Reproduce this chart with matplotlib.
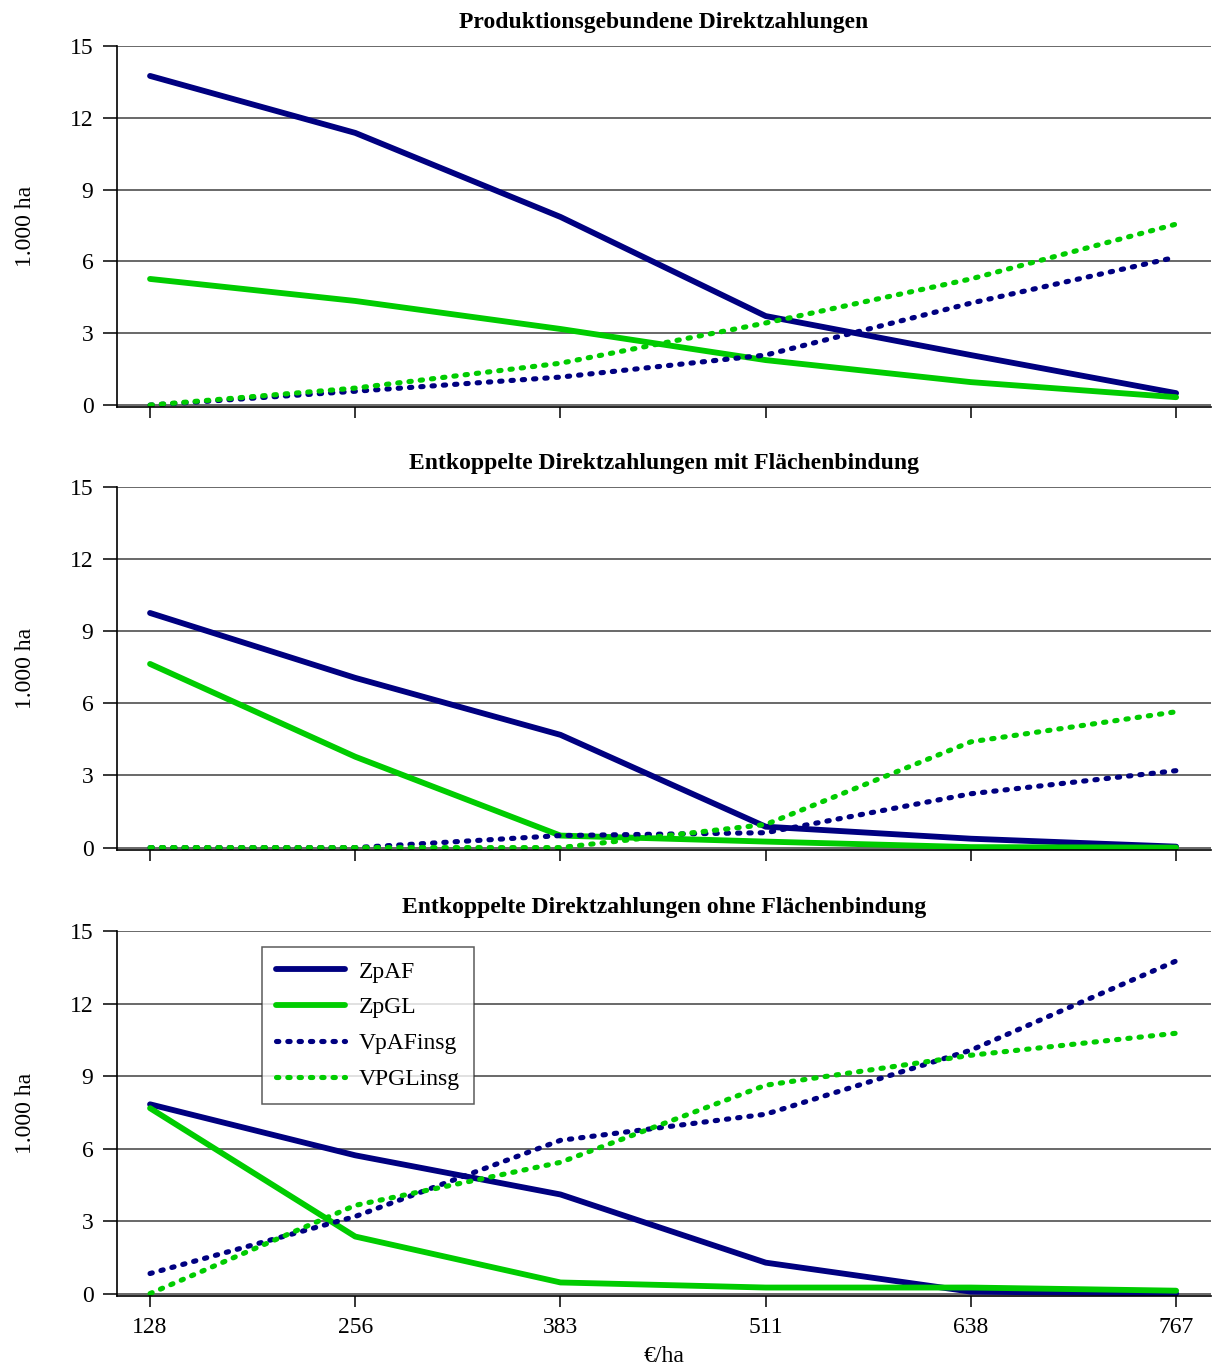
import matplotlib
matplotlib.use("Agg")
import matplotlib.pyplot as plt

plt.rcParams['font.family'] = ['Liberation Serif', 'DejaVu Serif']

categories = ['128', '256', '383', '511', '638', '767']
x_label = '€/ha'
y_label = '1.000 ha'
series_names = ['ZpAF', 'ZpGL', 'VpAFinsg', 'VPGLinsg']

titles = ['Produktionsgebundene Direktzahlungen',
          'Entkoppelte Direktzahlungen mit Flächenbindung',
          'Entkoppelte Direktzahlungen ohne Flächenbindung']

# Panel 1
p1_ZpAF = [13.75, 11.37, 7.86, 3.72, 2.09, 0.50]
p1_ZpGL = [5.27, 4.35, 3.18, 1.88, 0.96, 0.33]
p1_VpAFinsg = [0.0, 0.58, 1.17, 2.09, 4.26, 6.18]
p1_VPGLinsg = [0.0, 0.71, 1.75, 3.43, 5.27, 7.56]

# Panel 2
p2_ZpAF = [9.76, 7.06, 4.69, 0.87, 0.37, 0.04]
p2_ZpGL = [7.64, 3.78, 0.50, 0.25, 0.02, 0.0]
p2_VpAFinsg = [0.0, 0.0, 0.50, 0.62, 2.24, 3.20]
p2_VPGLinsg = [0.0, 0.0, 0.0, 0.96, 4.40, 5.65]

# Panel 3
p3_ZpAF = [7.83, 5.72, 4.10, 1.28, 0.08, 0.0]
p3_ZpGL = [7.67, 2.36, 0.46, 0.25, 0.25, 0.12]
p3_VpAFinsg = [0.83, 3.19, 6.34, 7.42, 10.07, 13.76]
p3_VPGLinsg = [0.0, 3.65, 5.43, 8.62, 9.86, 10.77]

panels = [
    [p1_ZpAF, p1_ZpGL, p1_VpAFinsg, p1_VPGLinsg],
    [p2_ZpAF, p2_ZpGL, p2_VpAFinsg, p2_VPGLinsg],
    [p3_ZpAF, p3_ZpGL, p3_VpAFinsg, p3_VPGLinsg],
]

navy = '#000080'
green = '#00CC00'
styles = [
    dict(color=navy, lw=4.2, ls='-', solid_capstyle='round'),
    dict(color=green, lw=4.2, ls='-', solid_capstyle='round'),
    dict(color=navy, lw=3.7, ls=(0, (0.45, 1.75)), dash_capstyle='round'),
    dict(color=green, lw=3.7, ls=(0, (0.45, 1.75)), dash_capstyle='round'),
]

FS = 17

fig = plt.figure(figsize=(12.13, 13.69), dpi=100)
W, H = 1213, 1369
ax_left, ax_right = 117, 1211
boxes = [(46, 407.5), (487, 850), (931, 1296)]

xs = list(range(len(categories)))
for i, (top, bot) in enumerate(boxes):
    ax = fig.add_axes([ax_left / W, 1 - bot / H, (ax_right - ax_left) / W, (bot - top) / H])
    for name, vals, st in zip(series_names, panels[i], styles):
        ax.plot(xs, vals, label=name, **st)
    ax.set_xlim(-0.161, 5.17)
    ax.set_ylim(-0.1, 15)
    ax.set_yticks([0, 3, 6, 9, 12, 15])
    ax.set_xticks(xs)
    ax.yaxis.grid(True, color='#404040', lw=1.1)
    ax.set_axisbelow(True)
    for s in ['top', 'right']:
        ax.spines[s].set_visible(False)
    for s in ['left', 'bottom']:
        ax.spines[s].set_color('black')
        ax.spines[s].set_linewidth(1.2)
    ax.tick_params(axis='y', length=10, width=1.1, labelsize=FS, pad=7)
    ax.tick_params(axis='x', length=8, width=1.1, labelsize=FS, pad=7)
    ax.set_ylabel(y_label, fontsize=FS, labelpad=24)
    ax.set_title(titles[i], fontsize=FS, fontweight='bold', pad=13)
    if i < 2:
        ax.set_xticklabels([])
    else:
        ax.set_xticklabels(categories)
        ax.set_xlabel(x_label, fontsize=FS, labelpad=6)
        leg = ax.legend(loc='upper left', bbox_to_anchor=(0.1325, 0.956), borderaxespad=0,
                        fontsize=FS, frameon=True, fancybox=False, handlelength=2.9,
                        handletextpad=0.6, labelspacing=0.6, borderpad=0.6)
        leg.get_frame().set_edgecolor('#333333')
        leg.get_frame().set_linewidth(1.1)

fig.savefig('out.png', dpi=100)
